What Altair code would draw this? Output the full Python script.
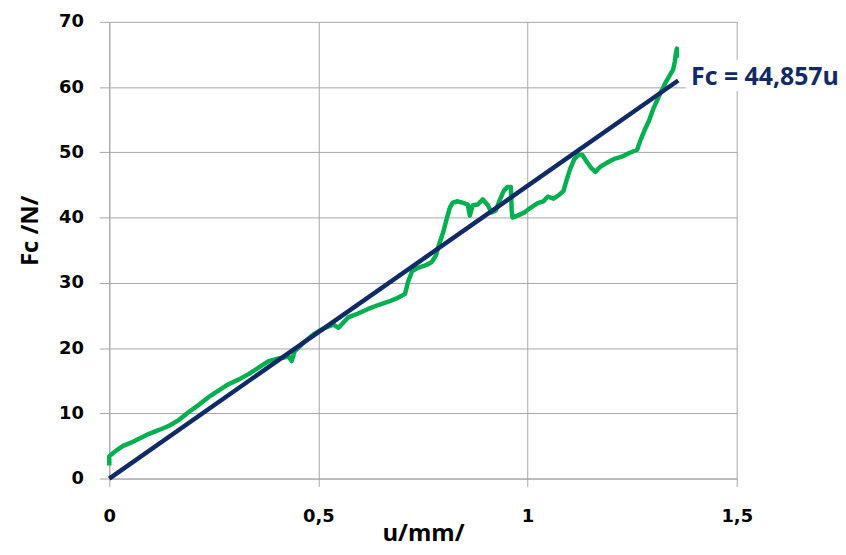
import altair as alt
import pandas as pd

u_mm = [0.000, 0.000, 0.007, 0.019, 0.033, 0.052, 0.071, 0.095, 0.119, 0.143,
        0.167, 0.190, 0.214, 0.238, 0.262, 0.286, 0.310, 0.333, 0.357, 0.381,
        0.405, 0.429, 0.436, 0.443, 0.464, 0.488, 0.512, 0.536, 0.548, 0.571,
        0.595, 0.619, 0.643, 0.667, 0.690, 0.707, 0.714, 0.724, 0.738, 0.757,
        0.771, 0.781, 0.788, 0.798, 0.807, 0.814, 0.821, 0.833, 0.848, 0.857,
        0.862, 0.869, 0.881, 0.893, 0.905, 0.914, 0.924, 0.933, 0.943, 0.952,
        0.960, 0.962, 0.964, 0.976, 0.993, 1.007, 1.024, 1.038, 1.048, 1.062,
        1.076, 1.086, 1.093, 1.102, 1.112, 1.121, 1.131, 1.140, 1.152, 1.162,
        1.174, 1.190, 1.207, 1.224, 1.243, 1.262, 1.269, 1.279, 1.290, 1.302,
        1.317, 1.329, 1.340, 1.348, 1.352, 1.355, 1.357, 1.357]
fc_n = [2.0, 3.4, 3.8, 4.4, 5.0, 5.5, 6.1, 6.85, 7.45, 8.1,
        9.0, 10.2, 11.3, 12.5, 13.5, 14.5, 15.2, 16.0, 17.0, 18.0,
        18.4, 18.7, 18.0, 19.5, 20.8, 22.1, 23.0, 23.6, 23.1, 24.7,
        25.3, 26.0, 26.6, 27.1, 27.7, 28.3, 30.1, 31.8, 32.3, 32.7,
        33.2, 34.2, 35.8, 37.7, 39.9, 41.5, 42.3, 42.5, 42.2, 42.0,
        40.3, 41.9, 42.0, 42.8, 41.9, 40.8, 41.1, 42.6, 44.1, 44.7,
        44.7, 41.1, 40.0, 40.3, 40.8, 41.5, 42.2, 42.5, 43.2, 42.9,
        43.5, 44.1, 45.7, 47.5, 49.0, 49.6, 49.6, 48.7, 47.6, 47.0,
        47.8, 48.4, 49.0, 49.3, 49.9, 50.4, 51.7, 53.3, 54.8, 56.9,
        59.0, 60.6, 61.8, 62.7, 63.9, 65.4, 65.9, 64.5]

# linear trendline through the origin
trend_u = [0.0, 1.36]
trend_slope = 44.857
trend_label = "Fc = 44,857u"

x_ticks = [0, 0.5, 1, 1.5]
y_ticks = [0, 10, 20, 30, 40, 50, 60, 70]

meas = pd.DataFrame({"u": u_mm, "F": fc_n, "i": list(range(len(u_mm)))})
trend = pd.DataFrame({"u": trend_u, "F": [trend_slope * v for v in trend_u]})
label = pd.DataFrame({"u": [trend_u[-1]], "F": [trend_slope * trend_u[-1]], "t": [trend_label]})
box = pd.DataFrame({"u": [1.378], "u2": [1.53], "F": [59.4], "F2": [64.2]})

GRID = "#A6A6A6"
GREEN = "#00B050"
NAVY = "#0F2A66"

x_scale = alt.Scale(domain=[0, 1.5], nice=False, zero=False)
y_scale = alt.Scale(domain=[0, 70], nice=False)

x_axis = alt.Axis(values=x_ticks,
                  labelExpr="replace(format(datum.value, '~g'), '.', ',')",
                  labelFlush=False,
                  title="u/mm/", tickSize=8, labelPadding=21,
                  titleY=62, titleBaseline="alphabetic", titleFontSize=24)
y_axis = alt.Axis(values=y_ticks, title="Fc /N/", tickSize=10, labelPadding=16,
                  labelFlush=False,
                  titleAngle=270, titleX=-79, titleY=210, titleBaseline="middle",
                  titleAlign="center", titleFontSize=24)

green = alt.Chart(meas).mark_line(color=GREEN, strokeWidth=4.5, strokeJoin="round").encode(
    x=alt.X("u:Q", scale=x_scale, axis=x_axis),
    y=alt.Y("F:Q", scale=y_scale, axis=y_axis),
    order="i:Q",
)

navy = alt.Chart(trend).mark_line(color=NAVY, strokeWidth=4.5).encode(
    x=alt.X("u:Q", scale=x_scale),
    y=alt.Y("F:Q", scale=y_scale),
)

bg = alt.Chart(box).mark_rect(color="white", clip=False).encode(
    x=alt.X("u:Q", scale=x_scale), x2="u2:Q",
    y=alt.Y("F:Q", scale=y_scale), y2="F2:Q",
)

txt = alt.Chart(label).mark_text(
    align="left", baseline="alphabetic", dx=13, dy=4,
    font="Open Sans", fontWeight="bold", fontSize=25, color=NAVY,
).encode(
    x=alt.X("u:Q", scale=x_scale),
    y=alt.Y("F:Q", scale=y_scale),
    text="t:N",
)

chart = alt.layer(bg, green, navy, txt).properties(
    width=632, height=460,
    autosize=alt.AutoSizeParams(type="none"),
    padding={"left": 102, "top": 12, "right": 102, "bottom": 67},
    background="white",
).configure_view(stroke=None).configure_axis(
    gridColor=GRID, gridWidth=1, domainColor=GRID, tickColor=GRID,
    labelFont="DejaVu Sans", labelFontWeight="bold", labelFontSize=18,
    labelColor="black", titleFont="Open Sans", titleFontWeight="bold",
    titleColor="black",
)

chart.save("out.html", embed_options={"renderer": "svg", "actions": False})
